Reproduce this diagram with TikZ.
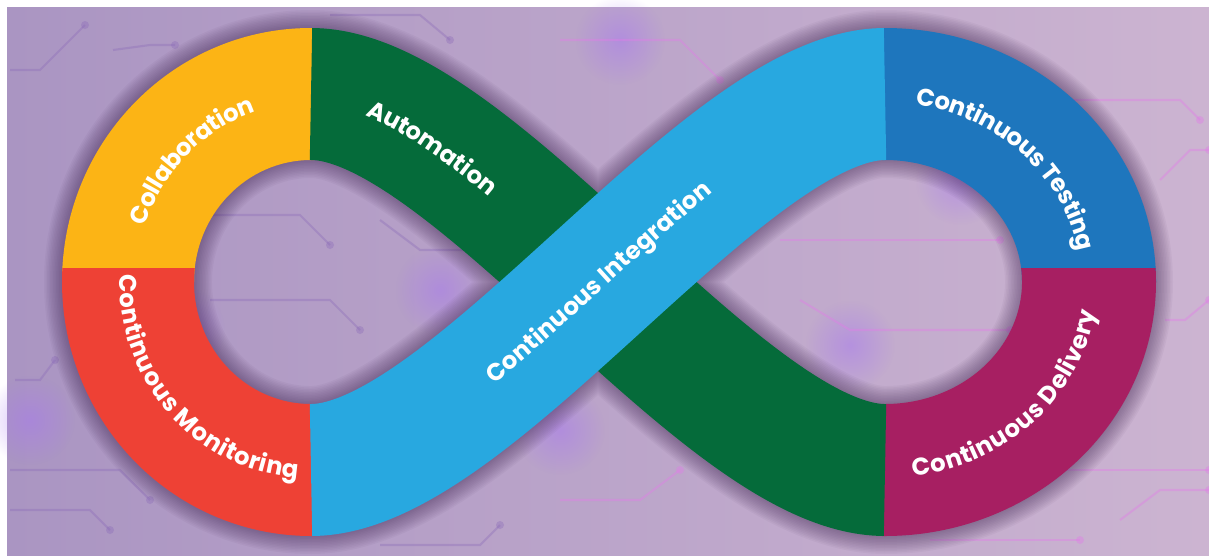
\documentclass[tikz,border=0pt]{standalone}
\usepackage{fontspec}
\setmainfont{Poppins}
\usetikzlibrary{decorations.text,fadings}

\definecolor{bgleft}{HTML}{AA95C2}
\definecolor{bgmid}{HTML}{D6A3E1}
\definecolor{bgright}{HTML}{CCB4D1}
\definecolor{glowviolet}{HTML}{A878F0}
\definecolor{tracedark}{HTML}{8A69B8}
\definecolor{tracepink}{HTML}{E27CE8}
\definecolor{shadowpurple}{HTML}{3E2350}
\definecolor{collabyellow}{HTML}{FCB415}
\definecolor{monitorred}{HTML}{EE4135}
\definecolor{autogreen}{HTML}{056B3A}
\definecolor{integblue}{HTML}{28A8E0}
\definecolor{testblue}{HTML}{1E76BD}
\definecolor{delivmagenta}{HTML}{A71F62}

\tikzfading[name=softglow, inner color=transparent!50, outer color=transparent!100]

\newcommand{\loopfont}{\fontsize{13.8}{15}\bfseries\selectfont}
\tikzset{looptext/.style={decorate, decoration={text along path, text color=white,
  raise=-4.8pt, text align=center, text={|\loopfont|#1}}}}

\begin{document}
\begin{tikzpicture}[x=0.02cm, y=-0.02cm]

\useasboundingbox (0,0) rectangle (1209,555);

%% background with faint circuit traces
\shade[left color=bgleft, middle color=bgmid, right color=bgright] (7,7) rectangle (1209,555);

\tikzstyle{trace}=[tracedark, line width=1.2pt, opacity=0.35]
\tikzstyle{pink trace}=[tracepink, line width=1.2pt, opacity=0.4]
\tikzstyle{glow}=[glowviolet, path fading=softglow]
\tikzstyle{band}=[line width=2.64cm]

\foreach \x/\y in {620/40, 440/290, 850/345, 560/430, 960/180, 180/330, 30/420}{
\fill[glow] (\x,\y) circle[radius=45];}

\foreach \xa/\ya/\xb/\yb/\xc/\yc in {10/70/40/70/85/25, 113/50/150/45/175/45,
  10/470/120/470/150/500, 10/510/90/510/110/530, 200/215/300/215/330/245,
  210/300/330/300/360/330, 380/220/420/250/520/250, 330/15/420/15/450/40,
  380/545/480/545/500/525, 15/380/40/380/55/360}{
\draw[trace] (\xa,\ya) -- (\xb,\yb) -- (\xc,\yc);
\fill[trace] (\xc,\yc) circle[radius=4];}

\foreach \xa/\ya/\xb/\yb/\xc/\yc in {560/40/680/40/720/80, 780/240/900/240/1000/240,
  800/300/850/330/1010/330, 1000/100/1180/100/1200/120, 1160/180/1190/150/1209/150,
  930/540/1000/540/1080/540, 1040/470/1150/470/1209/470, 1120/520/1160/490/1209/490,
  560/500/640/500/680/470, 1165/320/1185/320/1209/300}{
\draw[pink trace] (\xa,\ya) -- (\xb,\yb) -- (\xc,\yc);
\fill[pink trace] (\xc,\yc) circle[radius=4];}

%% coordinates of the loop
\def\lcx{311}
\def\rcx{885}
\def\cy{282}
\def\lrx{183}
\def\rrx{204}
\def\ry{188}
\def\ctl{160}

\coordinate (L-top) at (\lcx,94);
\coordinate (L-bot) at (\lcx,470);
\coordinate (R-top) at (\rcx,94);
\coordinate (R-bot) at (\rcx,470);

%% soft shadow round the loop (one closed figure eight)
\foreach \s in {1,...,12}{
\pgfmathsetmacro\sw{2.64+0.06*\s}
\draw[shadowpurple, opacity=0.042, line width=\sw cm]
  (L-bot) arc[start angle=90, end angle=270, x radius=\lrx, y radius=\ry]
  .. controls +(\ctl,0) and +(-\ctl,0) .. (R-bot)
  arc[start angle=90, end angle=-90, x radius=\rrx, y radius=\ry]
  .. controls +(-\ctl,0) and +(\ctl,0) .. (L-bot) -- cycle;}

%% left ring, split at y = 268
\fill[collabyellow] (\lcx-249,\cy) arc[start angle=180, end angle=270, x radius=249, y radius=254]
  -- ++(3,0) -- ++(0,132) -- (\lcx,160) arc[start angle=270, end angle=180, x radius=117, y radius=122] -- cycle;
\fill[monitorred] (62.4,268) arc[start angle=183.16, end angle=90, x radius=249, y radius=254]
  -- ++(3,0) -- ++(0,-132) -- (\lcx,404) arc[start angle=90, end angle=186.59, x radius=117, y radius=122] -- cycle;

%% right ring, split at y = 268
\fill[testblue] (\rcx-3,160) -- ++(0,-132) -- (\rcx,28) arc[start angle=270, end angle=360, x radius=271, y radius=254]
  -- (\rcx+137,\cy) arc[start angle=360, end angle=270, x radius=137, y radius=122] -- cycle;
\fill[delivmagenta] (\rcx-3,404) -- ++(0,132) -- (\rcx,536) arc[start angle=90, end angle=-3.16, x radius=271, y radius=254]
  -- (1021.1,268) arc[start angle=-6.59, end angle=90, x radius=137, y radius=122] -- cycle;

%% crossing bands, green below blue
\draw[band, autogreen] (L-top) .. controls +(\ctl,0) and +(-\ctl,0) .. (R-bot);
\draw[band, integblue] (L-bot) .. controls +(\ctl,0) and +(-\ctl,0) .. (R-top);

%% labels
\path[looptext=Collaboration] (\lcx-\lrx,\cy) arc[start angle=180, end angle=270, x radius=\lrx, y radius=\ry];
\path[looptext=Continuous Monitoring] (128.25,272.2) arc[start angle=183, end angle=93, x radius=\lrx, y radius=\ry];
\path[looptext=Continuous Testing] (R-top) arc[start angle=270, end angle=360, x radius=\rrx, y radius=\ry];
\path[looptext=Continuous Delivery] (R-bot) arc[start angle=90, end angle=0, x radius=\rrx, y radius=\ry];
\path[looptext=Automation, decoration={text align={align=left, left indent=1.2cm}}]
  (L-top) .. controls +(\ctl,0) and +(-\ctl,0) .. (R-bot);
\path[looptext=Continuous Integration] (L-bot) .. controls +(\ctl,0) and +(-\ctl,0) .. (R-top);

\end{tikzpicture}
\end{document}
